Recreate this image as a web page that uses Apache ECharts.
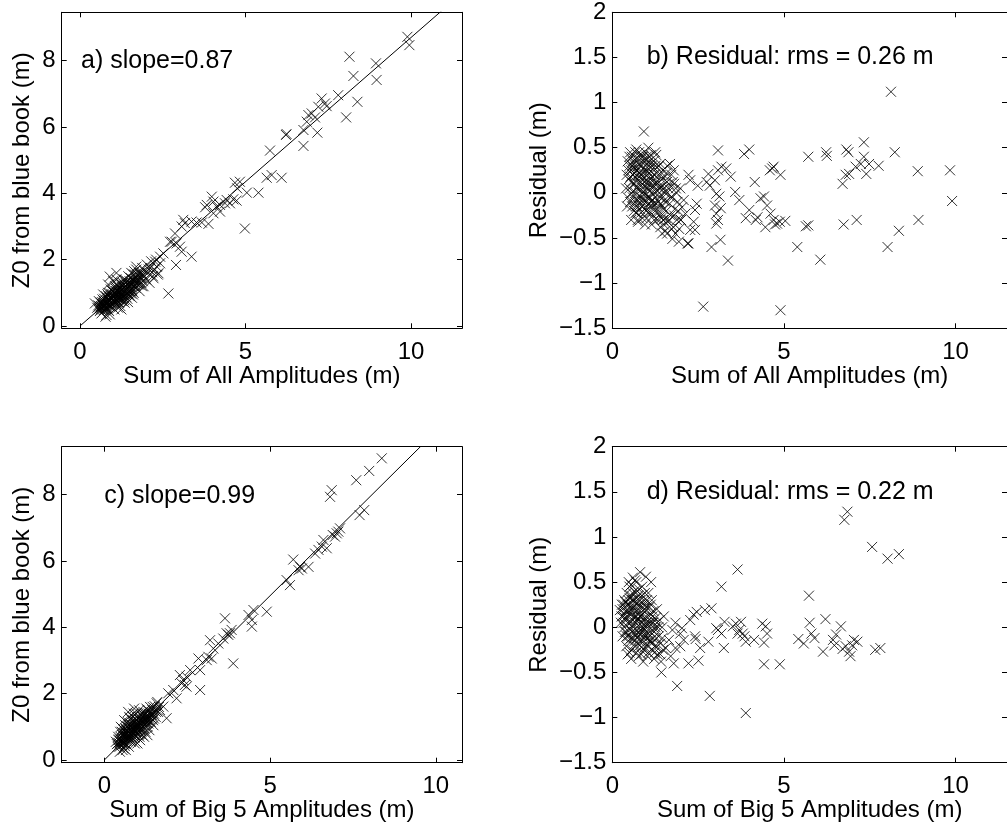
<!DOCTYPE html>
<html>
<head>
<meta charset="utf-8">
<script src="https://cdn.jsdelivr.net/npm/echarts@6/dist/echarts.min.js"></script>
<style>
  html, body { margin: 0; padding: 0; background: #fff; }
  #main { width: 1007px; height: 831px; }
</style>
</head>
<body>
<div id="main"></div>
<script>
// tick positions
var xTicks = [0, 5, 10];
var zTicks = [0, 2, 4, 6, 8];
var resTicks = [-1.5, -1, -0.5, 0, 0.5, 1, 1.5, 2];

// fitted lines
var fitAll = [[0, 0], [11, 9.57]];
var fitBig5 = [[0, 0], [10, 9.9]];

// a) Z0 vs sum of all amplitudes
var zoAll = [
  [9.89,8.72],[9.95,8.47],[8.14,8.12],[8.94,7.92],[8.26,7.54],[8.96,7.42],[8.38,6.76],[8.04,6.29],
  [7.80,6.96],[7.30,6.86],[7.40,6.71],[7.20,6.61],[7.45,6.63],[6.90,6.36],[7.00,6.41],[6.85,6.16],
  [7.10,6.29],[7.17,5.83],[6.75,5.91],[6.75,5.43],[6.24,5.79],[6.22,5.76],[5.74,5.29],[5.64,4.47],
  [5.79,4.55],[6.09,4.47],[5.39,4.02],[5.04,4.02],[4.98,2.94],[4.68,4.32],[4.83,4.35],[4.75,4.15],
  [4.63,3.82],[4.73,3.78],[4.53,3.70],[4.38,3.70],[4.23,3.65],[4.13,3.60],[4.03,3.75],[3.83,3.65],
  [3.98,3.90],[3.78,3.58],[4.03,3.40],[4.23,3.45],[4.43,3.80],[3.88,3.08],[3.68,3.12],[3.52,3.12],
  [3.37,3.15],[3.17,3.10],[3.07,3.00],[3.12,3.20],[2.87,2.79],[2.77,2.54],[2.92,2.49],[3.02,2.39],
  [3.07,2.24],[3.37,2.09],[2.90,1.84],[2.72,2.54],[2.67,0.98],[2.42,1.89],[2.32,1.79],[2.37,1.59],
  [2.22,1.44],[2.42,2.09],[2.27,1.94],[2.52,2.19],
  [0.55,0.62],[0.6,0.45],[0.62,0.7],[0.65,0.55],[0.68,0.8],[0.7,0.6],[0.72,0.48],[0.75,0.72],
  [0.77,0.28],[0.78,0.9],[0.8,0.65],[0.82,0.55],[0.84,0.78],[0.85,1.0],[0.87,0.62],[0.88,0.45],
  [0.9,0.85],[0.92,0.7],[0.93,1.1],[0.95,0.58],[0.96,0.92],[0.98,0.78],[1.0,0.68],[1.0,1.05],
  [1.02,0.88],[1.04,0.5],[1.05,0.75],[1.06,1.2],[1.08,0.95],[1.1,0.65],[1.1,1.4],[1.12,0.85],
  [1.14,1.05],[1.15,0.72],[1.16,0.92],[1.18,1.15],[1.2,0.8],[1.2,1.0],[1.22,0.6],[1.24,1.25],
  [1.25,0.9],[1.27,1.08],[1.28,0.75],[1.3,1.0],[1.3,1.3],[1.32,0.85],[1.34,1.15],[1.35,0.7],
  [1.36,1.4],[1.38,0.95],[1.4,1.1],[1.42,1.25],[1.43,0.82],[1.45,1.0],[1.46,1.5],[1.48,1.2],
  [1.5,0.9],[1.5,1.35],[1.52,1.05],[1.55,1.6],[1.55,1.25],[1.57,0.85],[1.58,1.15],[1.6,1.4],
  [1.62,1.0],[1.65,1.3],[1.66,1.55],[1.68,1.15],[1.7,1.7],[1.72,1.4],[1.75,1.25],[1.78,1.6],
  [1.8,1.05],[1.82,1.45],[1.85,1.3],[1.88,1.75],[1.9,1.55],[1.92,1.2],[1.95,1.65],[2.0,1.4],
  [2.02,1.85],[2.05,1.6],[2.1,1.3],[2.12,1.75],[2.15,1.95],[2.2,1.5],[2.25,1.7],[2.3,2.0],
  [2.35,1.55],[0.7,0.95],[0.85,1.25],[1.0,1.35],[0.9,0.35],[1.15,0.55],[1.25,0.5],[1.45,0.72],
  [0.65,0.38],[1.6,0.95],[1.1,1.6],[0.45,0.68],[0.9,1.49],[1.7,1.79],[0.8,0.33],
  [0.58,0.52],[0.63,0.6],[0.67,0.66],[0.69,0.5],[0.73,0.82],[0.74,0.62],[0.76,0.55],[0.79,0.75],
  [0.81,0.85],[0.83,0.68],[0.86,0.9],[0.87,0.75],[0.89,0.6],[0.91,0.98],[0.94,0.8],[0.97,0.65],
  [0.99,0.95],[1.01,0.8],[1.03,1.0],[1.05,0.9],[1.07,0.7],[1.09,1.05],[1.11,0.95],[1.13,0.78],
  [1.15,1.1],[1.17,1.0],[1.19,0.88],[1.21,1.15],[1.23,0.98],[1.26,0.82],[1.26,1.18],[1.29,1.1],
  [1.31,0.92],[1.33,1.25],[1.35,1.05],[1.37,1.2],[1.39,0.88],[1.41,1.35],[1.44,1.15],[1.47,1.05],
  [1.49,1.3],[1.51,1.2],[1.53,1.45],[1.56,1.1],[1.59,1.3],[1.61,1.55],[1.63,1.2],[1.67,1.42],
  [1.69,1.3],[1.73,1.55],[1.76,1.4],[1.79,1.25],[1.83,1.6],[1.86,1.45],[1.9,1.35],[0.66,0.72],
  [0.71,0.7],[0.77,0.62],[0.92,0.88],[0.97,1.05],[1.06,0.82],[1.12,1.25],[1.18,0.7],[1.22,1.3],
  [1.32,1.4],[1.4,0.98],[1.54,0.98],[1.64,1.65],[0.6,0.58],[0.84,0.5],
  [0.62,0.5],[0.68,0.58],[0.72,0.75],[0.78,0.5],[0.83,0.95],[0.88,0.8],[0.93,0.62],[0.98,0.88],
  [1.03,0.72],[1.08,1.12],[1.13,0.98],[1.18,0.82],[1.23,1.08],[1.28,0.95],[1.33,0.78],[1.38,1.3],
  [1.43,1.08],[1.48,0.95],[1.53,1.28],[1.58,1.05],[1.63,1.38],[1.68,1.22],[1.74,1.32],[1.8,1.5],
  [1.87,1.2],[1.95,1.5],[2.08,1.7],[2.18,1.62],[0.52,0.55],[0.57,0.75]
];

// b) residual vs sum of all amplitudes
var resAll = [
  [8.12,1.12],[8.23,0.45],[8.90,0.24],[9.84,0.25],[9.90,-0.09],[8.92,-0.30],[8.35,-0.42],[8.02,-0.60],
  [7.33,0.56],[7.33,0.40],[7.76,0.30],[7.48,0.32],[7.24,0.32],[7.09,0.29],[6.90,0.21],[6.80,0.20],
  [6.71,0.10],[7.40,0.21],[6.82,0.48],[6.88,0.45],[7.12,-0.30],[6.74,-0.35],[6.06,-0.74],[6.23,0.45],
  [6.25,0.41],[5.71,0.40],[5.71,-0.36],[5.64,-0.37],[5.39,-0.60],[4.90,-1.30],[2.65,-1.26],[3.37,-0.75],
  [2.89,-0.60],[3.15,-0.52],[3.08,0.47],[3.99,0.48],[3.84,0.43],[4.66,0.27],[4.70,0.29],[4.59,0.25],
  [4.90,0.20],[4.15,0.12],[4.42,-0.04],[4.32,-0.06],[4.51,-0.14],[4.61,-0.23],[4.70,-0.30],[4.80,-0.34],
  [4.88,-0.32],[5.04,-0.31],[4.74,-0.35],[4.23,-0.27],[4.18,-0.30],[4.46,-0.38],[3.89,-0.28],[3.99,-0.19],
  [3.70,-0.08],[3.58,0.01],[3.32,0.27],[3.45,0.18],[3.18,0.29],[3.08,0.25],[3.03,-0.01],[3.12,-0.04],
  [2.99,-0.14],[3.16,-0.17],[3.03,-0.23],[3.08,-0.30],[3.03,-0.34],[2.84,0.08],[2.75,0.12],[2.80,0.21],
  [2.99,0.14],[2.49,0.08],[2.27,0.14],[2.22,0.20],[2.46,-0.12],[2.41,-0.19],[2.37,-0.32],[2.41,-0.41],
  [2.27,-0.41],[2.22,-0.56],[1.94,-0.54],[1.75,-0.51],[2.13,-0.23],[2.03,-0.16],[2.08,-0.08],[1.99,-0.30],
  [0.92,0.68],[2.19,-0.56],
  [0.45,0.35],[0.48,0.15],[0.5,0.05],[0.52,-0.1],[0.55,0.25],[0.57,0.4],[0.6,-0.05],[0.6,0.2],
  [0.62,0.32],[0.63,-0.2],[0.65,0.1],[0.67,0.45],[0.68,0.0],[0.7,0.28],[0.7,-0.15],[0.72,0.15],
  [0.74,-0.3],[0.75,0.38],[0.76,0.05],[0.78,0.22],[0.8,-0.1],[0.8,0.42],[0.82,0.12],[0.84,-0.22],
  [0.85,0.3],[0.86,0.0],[0.88,0.18],[0.9,-0.08],[0.9,0.35],[0.92,0.08],[0.94,-0.18],[0.95,0.25],
  [0.96,0.45],[0.98,-0.02],[1.0,0.15],[1.0,-0.28],[1.02,0.32],[1.04,0.05],[1.05,-0.12],[1.07,0.22],
  [1.08,0.4],[1.1,-0.05],[1.1,0.1],[1.12,-0.22],[1.13,0.28],[1.15,0.0],[1.16,0.18],[1.18,-0.15],
  [1.2,0.35],[1.2,0.08],[1.22,-0.3],[1.24,0.2],[1.25,-0.05],[1.27,0.12],[1.28,0.42],[1.3,-0.18],
  [1.3,0.28],[1.32,0.02],[1.34,-0.1],[1.35,0.2],[1.37,-0.25],[1.38,0.08],[1.4,0.32],[1.4,-0.38],
  [1.42,-0.02],[1.44,0.15],[1.45,-0.15],[1.47,0.25],[1.48,-0.3],[1.5,0.05],[1.52,-0.08],[1.54,0.18],
  [1.55,-0.42],[1.57,-0.2],[1.6,0.0],[1.6,0.3],[1.62,-0.32],[1.65,0.1],[1.67,-0.12],[1.7,-0.25],
  [1.72,0.2],[1.75,-0.05],[1.78,-0.38],[1.8,0.1],[1.82,-0.18],[1.85,0.05],[1.88,-0.3],[1.9,-0.1],
  [0.55,-0.3],[0.75,-0.32],[1.15,-0.35],[1.45,-0.45],[1.25,0.45],[0.7,0.48],[0.95,-0.35],[1.05,0.5],
  [0.5,0.3],[0.45,-0.05],
  [0.47,0.25],[0.5,0.4],[0.53,0.18],[0.55,0.0],[0.58,0.3],[0.6,0.35],[0.62,0.1],[0.64,0.22],
  [0.66,-0.1],[0.69,0.38],[0.71,0.05],[0.73,0.25],[0.75,-0.05],[0.77,0.32],[0.79,0.1],[0.81,-0.18],
  [0.83,0.2],[0.85,-0.05],[0.87,0.4],[0.89,0.05],[0.91,0.22],[0.93,-0.12],[0.95,0.12],[0.97,0.3],
  [0.99,-0.2],[1.01,0.05],[1.03,0.2],[1.05,-0.05],[1.07,0.35],[1.09,-0.15],[1.11,0.15],[1.13,-0.1],
  [1.15,0.3],[1.17,0.05],[1.19,-0.25],[1.21,0.2],[1.23,0.0],[1.26,0.3],[1.28,-0.12],[1.31,0.1],
  [1.33,-0.22],[1.36,0.05],[1.39,-0.05],[1.41,0.2],[1.43,-0.28],[1.46,0.08],[1.49,-0.18],[1.53,0.0],
  [1.56,-0.28],[1.59,0.12],[0.58,-0.15],[0.68,-0.22],[0.78,0.45],[0.88,-0.28],[1.0,0.4],[1.12,0.42],
  [0.72,-0.08],[0.85,0.15],[0.95,0.0],[1.05,0.1],
  [1.5,-0.35],[1.55,-0.1],[1.6,-0.45],[1.63,0.05],[1.66,-0.3],[1.7,-0.05],[1.73,-0.4],[1.76,0.12],
  [1.8,-0.25],[1.84,-0.45],[1.87,0.0],[1.92,-0.2],[1.95,-0.4],[1.98,0.05],[2.0,-0.3],[1.58,0.22],
  [1.68,0.32],[1.79,0.25],[0.56,0.12],[0.61,0.28],[0.66,0.18],[0.71,-0.22],[0.76,0.2],[0.81,0.3],
  [0.86,-0.15],[0.91,0.4],[0.96,-0.08],[1.01,0.25],[1.06,-0.22],[1.11,0.32],[1.16,-0.08],[1.21,-0.12],
  [1.26,0.1],[1.31,-0.3],[1.36,0.3],[1.41,-0.12],[0.52,0.45],[0.42,0.2],[0.4,0.05],[0.43,-0.15]
];

// c) Z0 vs sum of big 5 amplitudes
var zoBig5 = [
  [8.37,9.09],[7.99,8.71],[7.60,8.43],[6.86,8.13],[6.81,7.93],[7.84,7.53],[7.70,7.38],[7.11,6.98],
  [7.01,6.83],[6.96,6.73],[7.06,6.88],[6.89,6.78],[6.61,6.63],[6.56,6.43],[6.46,6.33],[6.36,6.22],
  [6.71,6.38],[6.16,5.82],[5.91,5.82],[5.86,5.72],[5.96,5.77],[5.70,6.04],[5.50,5.42],[5.60,5.27],
  [4.90,4.47],[4.50,4.52],[4.45,4.22],[4.45,4.02],[4.35,4.37],[3.89,2.91],[3.84,3.92],[3.79,3.82],
  [3.74,3.77],[3.69,3.82],[3.64,4.27],[3.59,3.66],[3.44,3.51],[3.19,3.61],[3.29,3.36],[3.14,3.11],
  [3.09,3.01],[3.24,3.06],[2.89,2.71],[2.84,3.06],[2.89,2.11],[2.59,2.71],[2.48,2.51],[2.38,2.41],
  [2.33,2.31],[2.43,2.26],[2.28,2.56],[2.48,2.21],[2.18,1.86],[2.08,2.11],[1.93,2.01],[1.88,1.26],
  [1.78,1.61],[1.68,1.51],[1.58,1.71],[1.43,1.36],[1.48,1.05],
  [0.35,0.55],[0.4,0.4],[0.42,0.7],[0.45,0.5],[0.47,0.25],[0.48,0.85],[0.5,0.62],[0.52,0.45],
  [0.54,0.75],[0.55,0.95],[0.57,0.55],[0.58,0.35],[0.6,0.8],[0.62,0.65],[0.63,1.05],[0.65,0.48],
  [0.66,0.9],[0.68,0.72],[0.7,0.58],[0.7,1.15],[0.72,0.85],[0.74,0.4],[0.75,0.98],[0.76,0.68],
  [0.78,1.25],[0.8,0.78],[0.8,0.55],[0.82,1.05],[0.84,0.88],[0.85,0.65],[0.86,1.3],[0.88,0.95],
  [0.9,0.75],[0.9,1.15],[0.92,0.5],[0.94,1.0],[0.95,0.85],[0.96,1.4],[0.98,0.7],[1.0,1.1],
  [1.0,0.92],[1.02,1.25],[1.04,0.8],[1.05,1.5],[1.06,1.0],[1.08,0.6],[1.1,1.2],[1.1,0.88],
  [1.12,1.35],[1.14,1.05],[1.15,0.75],[1.17,1.15],[1.18,1.45],[1.2,0.95],[1.22,1.25],[1.24,0.85],
  [1.25,1.1],[1.27,1.55],[1.28,1.3],[1.3,1.0],[1.32,1.2],[1.34,1.4],[1.36,0.9],[1.38,1.6],
  [1.4,1.15],[1.42,1.35],[1.45,1.5],[1.47,1.2],[1.5,1.4],[1.52,1.62],[1.55,1.3],[1.58,1.5],
  [1.6,1.75],[1.62,1.45],[1.65,1.6],[0.5,1.0],[0.6,1.2],[0.72,1.45],[0.9,1.55],[1.0,0.5],
  [1.2,0.7],[1.3,0.75],[0.55,0.3],[0.65,0.3],
  [0.42,0.52],[0.44,0.62],[0.46,0.4],[0.49,0.7],[0.51,0.55],[0.53,0.85],[0.56,0.65],[0.58,0.48],
  [0.59,0.9],[0.61,0.72],[0.63,0.58],[0.64,0.95],[0.67,0.8],[0.69,0.65],[0.71,1.0],[0.73,0.75],
  [0.75,0.6],[0.77,0.9],[0.79,1.1],[0.81,0.7],[0.83,0.95],[0.85,1.2],[0.87,0.82],[0.89,1.05],
  [0.91,0.68],[0.93,1.25],[0.95,0.98],[0.97,0.8],[0.99,1.2],[1.01,1.02],[1.03,0.85],[1.05,1.3],
  [1.07,1.1],[1.09,0.92],[1.11,1.4],[1.13,1.15],[1.16,1.3],[1.19,1.05],[1.21,1.35],[1.23,1.15],
  [1.26,1.42],[1.29,1.2],[1.31,1.5],[1.33,1.1],[1.37,1.3],[1.39,1.45],[1.43,1.25],[1.46,1.6],
  [0.62,0.42],[0.75,1.3],[0.88,1.4],[1.06,0.7],[0.7,0.85],[0.8,1.0],[0.9,0.92],[1.0,1.0],
  [0.38,0.48],[0.43,0.6],[0.48,0.55],[0.53,0.62],[0.58,0.75],[0.63,0.82],[0.68,0.92],[0.73,1.08],
  [0.78,0.62],[0.83,0.75],[0.88,1.1],[0.93,0.88],[0.98,1.05],[1.03,1.15],[1.08,1.2],[1.13,0.95],
  [1.18,1.25],[1.23,1.38],[1.28,1.12],[1.33,1.32],[1.38,1.22],[1.44,1.4],[1.5,1.25],[1.56,1.45],
  [0.6,0.5],[0.7,0.7],[0.85,0.95],[0.95,1.15],[1.15,1.0],[1.25,1.2]
];

// d) residual vs sum of big 5 amplitudes
var resBig5 = [
  [6.85,1.28],[6.76,1.19],[7.57,0.89],[8.02,0.76],[8.35,0.81],[5.73,0.35],[3.65,0.64],[3.18,0.45],
  [5.75,0.05],[6.21,0.09],[6.66,0.01],[5.80,-0.07],[5.89,-0.12],[5.42,-0.13],[5.58,-0.18],[6.14,-0.27],
  [6.43,-0.14],[6.52,-0.08],[6.47,-0.20],[6.71,-0.24],[6.90,-0.27],[6.94,-0.32],[7.04,-0.14],[6.99,-0.20],
  [7.14,-0.16],[7.66,-0.25],[7.81,-0.23],[6.80,-0.21],[4.88,-0.41],[4.42,-0.41],[3.89,-0.95],[2.84,-0.76],
  [1.89,-0.65],[1.43,-0.50],[2.22,-0.40],[2.51,-0.37],[2.89,0.21],[2.70,0.19],[2.46,0.17],[2.37,0.14],
  [2.27,0.08],[2.41,-0.10],[2.43,-0.13],[2.56,-0.23],[2.80,-0.16],[3.03,-0.01],[3.08,-0.03],[3.18,-0.07],
  [3.25,-0.23],[3.27,0.06],[3.51,0.01],[3.60,0.04],[3.70,-0.03],[3.75,0.06],[3.80,-0.07],[3.89,-0.16],
  [3.85,-0.10],[3.65,-0.07],[4.13,-0.14],[4.37,0.04],[4.47,0.01],[4.51,-0.07],[4.42,-0.17],[1.98,-0.07],
  [2.03,-0.01],[1.84,0.05],[1.75,-0.03],[1.65,-0.14],[2.08,-0.14],[1.84,-0.23],[1.79,-0.40],[1.70,-0.32],
  [1.98,-0.21],[1.56,-0.23],
  [0.22,0.19],[0.25,0.05],[0.28,0.25],[0.3,-0.1],[0.32,0.12],[0.35,0.3],[0.37,-0.05],[0.4,0.18],
  [0.41,-0.21],[0.42,0.38],[0.45,0.05],[0.47,-0.15],[0.48,0.25],[0.5,0.45],[0.52,-0.02],[0.54,0.15],
  [0.55,0.47],[0.56,-0.25],[0.58,0.3],[0.6,0.08],[0.62,-0.12],[0.63,0.22],[0.65,0.4],[0.66,-0.05],
  [0.68,0.12],[0.7,-0.28],[0.7,0.32],[0.72,0.0],[0.74,0.2],[0.75,-0.18],[0.77,0.08],[0.78,0.42],
  [0.8,-0.08],[0.81,0.61],[0.82,0.25],[0.84,-0.3],[0.85,0.05],[0.86,0.35],[0.88,-0.15],[0.9,0.15],
  [0.92,-0.02],[0.93,0.3],[0.95,-0.22],[0.96,0.1],[0.98,0.56],[0.98,-0.08],[1.0,0.22],[1.02,-0.32],
  [1.03,0.02],[1.05,0.38],[1.06,-0.15],[1.08,0.12],[1.1,-0.05],[1.12,0.25],[1.13,0.5],[1.14,-0.25],
  [1.16,0.05],[1.18,-0.12],[1.2,0.18],[1.22,-0.35],[1.24,-0.02],[1.25,0.1],[1.27,-0.2],[1.3,0.05],
  [1.32,-0.3],[1.35,-0.1],[1.38,0.08],[1.4,-0.18],[1.42,-0.38],[1.45,0.0],[1.48,-0.25],[1.5,0.12],
  [0.6,0.55],[0.45,-0.3],[0.9,-0.38],[1.15,0.3],[0.7,0.5],[1.3,0.2],[0.35,0.0],[0.55,-0.35],
  [0.3,0.2],[0.33,0.05],[0.36,0.15],[0.38,0.28],[0.4,-0.05],[0.43,0.1],[0.44,0.25],[0.46,-0.1],
  [0.49,0.15],[0.51,0.32],[0.53,0.05],[0.55,-0.12],[0.57,0.2],[0.59,0.38],[0.61,0.0],[0.63,-0.2],
  [0.64,0.12],[0.67,0.28],[0.69,-0.08],[0.71,0.18],[0.73,0.4],[0.74,-0.22],[0.76,0.1],[0.78,-0.05],
  [0.8,0.3],[0.82,0.0],[0.83,-0.15],[0.85,0.2],[0.87,0.45],[0.89,-0.05],[0.91,0.1],[0.92,-0.25],
  [0.94,0.25],[0.96,-0.1],[0.99,0.05],[1.01,0.3],[1.04,-0.2],[1.07,0.05],[1.09,-0.1],[1.11,0.15],
  [1.15,-0.18],[1.19,0.05],[1.23,-0.28],[1.26,0.0],[1.29,-0.12],[0.48,0.5],[0.66,0.52],[0.77,-0.32],
  [0.5,-0.28],[0.6,0.22],[0.7,0.08],[0.8,0.12],[0.9,0.0],[1.0,-0.05],
  [0.27,0.12],[0.32,0.25],[0.37,0.1],[0.42,-0.1],[0.47,0.3],[0.52,0.2],[0.57,-0.05],[0.62,0.3],
  [0.67,0.05],[0.72,-0.12],[0.77,0.25],[0.82,0.12],[0.87,-0.1],[0.92,0.2],[0.97,0.02],[1.02,-0.12],
  [1.07,0.22],[1.12,-0.15],[1.17,0.12],[1.22,-0.05],[1.28,-0.22],[1.34,0.0],[1.4,-0.3],[1.46,-0.12],
  [0.55,0.35],[0.65,-0.15],[0.75,0.35],[0.85,-0.22],[0.95,0.38],[1.05,-0.28]
];

var FONT = "'Liberation Sans', Arial, Helvetica, sans-serif";
var FS = 24;
var crossSymbol = 'path://M0,0L10,10M10,0L0,10';

function minusFmt(v) {
  return String(v).replace('-', '\u2212');
}

var myChart = echarts.init(document.getElementById('main'));

// grid boxes in pixels
var grids = [
  {left: 61.7, top: 12.3, width: 400.3, height: 316},   // a
  {left: 612.3, top: 12.3, width: 402, height: 316},    // b
  {left: 61.7, top: 446.7, width: 400.3, height: 316},  // c
  {left: 612.3, top: 446.7, width: 402, height: 316}    // d
];

var xRanges = [[-0.553, 11.54], [0, 11.5], [-1.285, 10.79], [0, 11.5]];
var yRanges = [[-0.07, 9.46], [-1.5, 2], [-0.08, 9.44], [-1.5, 2]];
var yTickSets = [zTicks, resTicks, zTicks, resTicks];
var xNames = ['Sum of All Amplitudes (m)', 'Sum of All Amplitudes (m)',
  'Sum of Big 5 Amplitudes (m)', 'Sum of Big 5 Amplitudes (m)'];
var yNames = ['Z0 from blue book (m)', 'Residual (m)', 'Z0 from blue book (m)', 'Residual (m)'];
var yNameGaps = [27, 61, 27, 61];

var lineCol = {onZero: false, lineStyle: {color: '#000', width: 1}};

var xAxes = [], yAxes = [];
for (var i = 0; i < 4; i++) {
  // bottom
  xAxes.push({
    type: 'value', gridIndex: i, position: 'bottom',
    min: xRanges[i][0], max: xRanges[i][1],
    name: xNames[i], nameLocation: 'middle', nameGap: 36, nameMoveOverlap: false,
    nameTextStyle: {fontFamily: FONT, fontSize: FS, color: '#000'},
    axisLine: lineCol,
    axisTick: {inside: true, length: 5, customValues: xTicks, lineStyle: {color: '#000'}},
    axisLabel: {customValues: xTicks, margin: 12, fontFamily: FONT, fontSize: FS, color: '#000', formatter: minusFmt},
    splitLine: {show: false}
  });
  // top (box)
  xAxes.push({
    type: 'value', gridIndex: i, position: 'top',
    min: xRanges[i][0], max: xRanges[i][1],
    axisLine: lineCol,
    axisTick: {inside: true, length: 5, customValues: xTicks, lineStyle: {color: '#000'}},
    axisLabel: {show: false},
    splitLine: {show: false}
  });
  // left
  yAxes.push({
    type: 'value', gridIndex: i, position: 'left',
    min: yRanges[i][0], max: yRanges[i][1],
    name: yNames[i], nameLocation: 'middle', nameGap: yNameGaps[i], nameMoveOverlap: false,
    nameTextStyle: {fontFamily: FONT, fontSize: FS, color: '#000'},
    axisLine: lineCol,
    axisTick: {inside: true, length: 5, customValues: yTickSets[i], lineStyle: {color: '#000'}},
    axisLabel: {customValues: yTickSets[i], margin: 6, fontFamily: FONT, fontSize: FS, color: '#000', formatter: minusFmt},
    splitLine: {show: false}
  });
  // right (box)
  yAxes.push({
    type: 'value', gridIndex: i, position: 'right',
    min: yRanges[i][0], max: yRanges[i][1],
    axisLine: lineCol,
    axisTick: {inside: true, length: 5, customValues: yTickSets[i], lineStyle: {color: '#000'}},
    axisLabel: {show: false},
    splitLine: {show: false}
  });
}

function scatter(idx, data) {
  return {
    type: 'scatter', xAxisIndex: idx * 2, yAxisIndex: idx * 2,
    data: data, symbol: crossSymbol, symbolSize: 10,
    itemStyle: {color: 'transparent', borderColor: '#000', borderWidth: 1},
    emphasis: {disabled: true}, silent: true
  };
}

function fitLine(idx, data) {
  return {
    type: 'line', xAxisIndex: idx * 2, yAxisIndex: idx * 2,
    data: data, showSymbol: false, symbol: 'none', clip: true,
    lineStyle: {color: '#000', width: 1}, silent: true
  };
}

var labels = [
  {text: 'a) slope=0.87', x: 81, y: 62},
  {text: 'b) Residual: rms = 0.26 m', x: 646.7, y: 58},
  {text: 'c) slope=0.99', x: 104.3, y: 497},
  {text: 'd) Residual: rms = 0.22 m', x: 646.7, y: 493}
];

var option = {
  animation: false,
  backgroundColor: '#fff',
  grid: grids,
  xAxis: xAxes,
  yAxis: yAxes,
  graphic: labels.map(function (l) {
    return {
      type: 'text', left: l.x, top: l.y - 13,
      style: {text: l.text, fontFamily: FONT, fontSize: 25, fill: '#000'}
    };
  }),
  series: [
    fitLine(0, fitAll),
    scatter(0, zoAll),
    scatter(1, resAll),
    fitLine(2, fitBig5),
    scatter(2, zoBig5),
    scatter(3, resBig5)
  ]
};

myChart.setOption(option);
</script>
</body>
</html>
